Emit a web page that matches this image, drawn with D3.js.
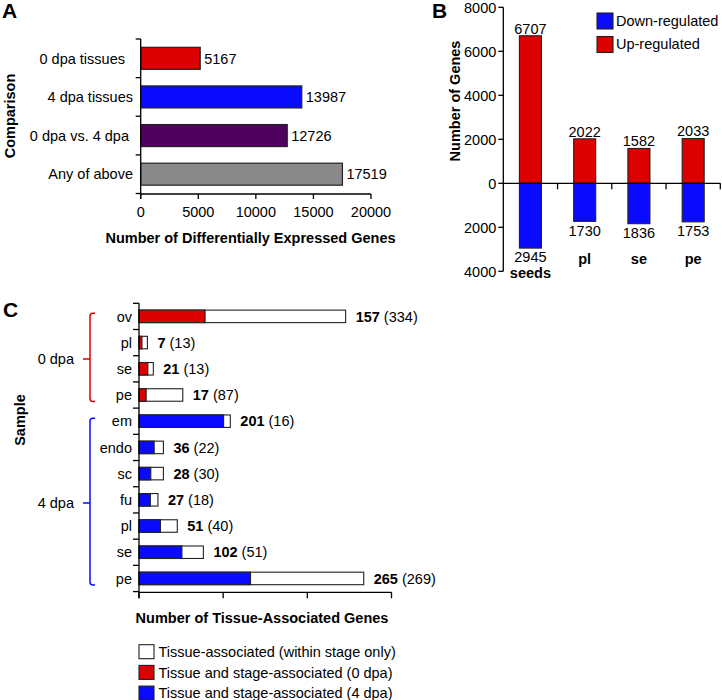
<!DOCTYPE html>
<html>
<head>
<meta charset="utf-8">
<script src="https://cdn.jsdelivr.net/npm/d3@7"></script>
<style>
  html, body { margin: 0; padding: 0; background: #fff; }
  svg { display: block; font-family: "Liberation Sans", Arial, sans-serif; }
</style>
</head>
<body>
<svg id="chart" width="722" height="700"></svg>
<script>
// ---------- Panel A data ----------
const compCategories = ["0 dpa tissues\u00a0\u00a0", "4 dpa tissues", "0 dpa vs. 4 dpa\u00a0", "Any of above"];
const compValues = [5167, 13987, 12726, 17519];
const compColors = ["#dc0000", "#0a0aff", "#50005f", "#8a8a8a"];
const compTicks = [0, 5000, 10000, 15000, 20000];

// ---------- Panel B data ----------
const regCategories = ["seeds", "pl", "se", "pe"];
const upRegulated = [6707, 2022, 1582, 2033];
const downRegulated = [2945, 1730, 1836, 1753];
const regTicks = [8000, 6000, 4000, 2000, 0, -2000, -4000];

// ---------- Panel C data ----------
const samples = ["ov", "pl", "se", "pe", "em", "endo", "sc", "fu", "pl", "se", "pe"];
const sampleStage = ["0 dpa", "0 dpa", "0 dpa", "0 dpa", "4 dpa", "4 dpa", "4 dpa", "4 dpa", "4 dpa", "4 dpa", "4 dpa"];
const stageAssociated = [157, 7, 21, 17, 201, 36, 28, 27, 51, 102, 265];
const withinStageOnly = [334, 13, 13, 87, 16, 22, 30, 18, 40, 51, 269];
const tissueTicks = [0, 200, 400, 600];
const stages = ["0 dpa", "4 dpa"];
const stageColors = {"0 dpa": "#dc0000", "4 dpa": "#0a0aff"};
const legendC = ["Tissue-associated (within stage only)", "Tissue and stage-associated (0 dpa)", "Tissue and stage-associated (4 dpa)"];
const legendCColors = ["#ffffff", "#dc0000", "#0a0aff"];

const svg = d3.select("#chart");
const FS = 14.5;

function panelLetter(t, x, y) {
  svg.append("text").attr("x", x).attr("y", y).attr("font-size", 21)
    .attr("font-weight", "bold").text(t);
}

// ================= Panel A =================
(function () {
  const x = d3.scaleLinear().domain([0, 20000]).range([140.7, 371]);
  const y = d3.scaleBand().domain(compCategories).range([39, 193.5])
    .paddingInner(0.43).paddingOuter(0.215);
  const g = svg.append("g");
  const axisY = 194;

  g.selectAll("rect.bar").data(compCategories).join("rect")
    .attr("x", x(0)).attr("y", d => y(d))
    .attr("width", (d, i) => x(compValues[i]) - x(0))
    .attr("height", y.bandwidth())
    .attr("fill", (d, i) => compColors[i])
    .attr("stroke", "#222").attr("stroke-width", 1.2);

  g.selectAll("text.val").data(compCategories).join("text")
    .attr("x", (d, i) => x(compValues[i]) + 4)
    .attr("y", d => y(d) + y.bandwidth() / 2)
    .attr("dy", "0.36em").attr("font-size", FS)
    .text((d, i) => compValues[i]);

  // axes
  g.append("line").attr("x1", x(0)).attr("x2", x(0)).attr("y1", 39).attr("y2", axisY + 5)
    .attr("stroke", "#000").attr("stroke-width", 1.3);
  g.append("line").attr("x1", x(0)).attr("x2", x(20000)).attr("y1", axisY).attr("y2", axisY)
    .attr("stroke", "#000").attr("stroke-width", 1.3);
  const step = y.step();
  const bounds = d3.range(compCategories.length + 1).map(i => 39 + i * step);
  g.selectAll("line.yt").data(bounds).join("line")
    .attr("x1", x(0) - 5).attr("x2", x(0)).attr("y1", d => d).attr("y2", d => d)
    .attr("stroke", "#000").attr("stroke-width", 1.3);
  g.selectAll("line.xt").data(compTicks).join("line")
    .attr("x1", d => x(d)).attr("x2", d => x(d)).attr("y1", axisY).attr("y2", axisY + 5)
    .attr("stroke", "#000").attr("stroke-width", 1.3);
  g.selectAll("text.xl").data(compTicks).join("text")
    .attr("x", d => x(d)).attr("y", 211.7).attr("dy", "0.36em")
    .attr("text-anchor", "middle").attr("font-size", FS).text(d => d);
  g.selectAll("text.yl").data(compCategories).join("text")
    .attr("x", 133).attr("y", d => y(d) + y.bandwidth() / 2).attr("dy", "0.36em")
    .attr("text-anchor", "end").attr("font-size", FS)
    .style("white-space", "pre").text(d => d);

  g.append("text").attr("x", 250.5).attr("y", 237.3).attr("dy", "0.36em")
    .attr("text-anchor", "middle").attr("font-size", FS).attr("font-weight", "bold")
    .text("Number of Differentially Expressed Genes");
  g.append("text").attr("transform", "translate(10,116) rotate(-90)")
    .attr("dy", "0.36em").attr("text-anchor", "middle").attr("font-size", FS)
    .attr("font-weight", "bold").text("Comparison");
  panelLetter("A", 2, 18);
})();

// ================= Panel B =================
(function () {
  const y = d3.scaleLinear().domain([-4000, 8000]).range([271.3, 7.3]);
  const x = d3.scaleBand().domain(regCategories).range([503.3, 720.3])
    .paddingInner(0.594).paddingOuter(0.297);
  const g = svg.append("g");
  const x0 = 503.3;

  g.selectAll("rect.up").data(regCategories).join("rect")
    .attr("x", d => x(d)).attr("y", (d, i) => y(upRegulated[i]))
    .attr("width", x.bandwidth()).attr("height", (d, i) => y(0) - y(upRegulated[i]))
    .attr("fill", "#dc0000").attr("stroke", "#222").attr("stroke-width", 1.1);
  g.selectAll("rect.down").data(regCategories).join("rect")
    .attr("x", d => x(d)).attr("y", y(0))
    .attr("width", x.bandwidth()).attr("height", (d, i) => y(-downRegulated[i]) - y(0))
    .attr("fill", "#0a0aff").attr("stroke", "#222").attr("stroke-width", 1.1);

  g.selectAll("text.upv").data(regCategories).join("text")
    .attr("x", d => x(d) + x.bandwidth() / 2).attr("y", (d, i) => y(upRegulated[i]) - 7.3)
    .attr("dy", "0.36em").attr("text-anchor", "middle").attr("font-size", FS)
    .text((d, i) => upRegulated[i]);
  g.selectAll("text.dnv").data(regCategories).join("text")
    .attr("x", d => x(d) + x.bandwidth() / 2).attr("y", (d, i) => y(-downRegulated[i]) + 9)
    .attr("dy", "0.36em").attr("text-anchor", "middle").attr("font-size", FS)
    .text((d, i) => downRegulated[i]);
  // category labels (pushed below value label if bar is long)
  g.selectAll("text.cat").data(regCategories).join("text")
    .attr("x", d => x(d) + x.bandwidth() / 2)
    .attr("y", (d, i) => Math.max(258.3, y(-downRegulated[i]) + 25))
    .attr("dy", "0.36em").attr("text-anchor", "middle").attr("font-size", FS)
    .attr("font-weight", "bold").text(d => d);

  // axes
  g.append("line").attr("x1", x0).attr("x2", x0).attr("y1", y(8000)).attr("y2", y(-4000))
    .attr("stroke", "#000").attr("stroke-width", 1.3);
  g.append("line").attr("x1", x0).attr("x2", 720.3).attr("y1", y(0)).attr("y2", y(0))
    .attr("stroke", "#000").attr("stroke-width", 1.3);
  g.selectAll("line.yt").data(regTicks).join("line")
    .attr("x1", x0 - 5).attr("x2", x0).attr("y1", d => y(d)).attr("y2", d => y(d))
    .attr("stroke", "#000").attr("stroke-width", 1.3);
  g.selectAll("text.yl").data(regTicks).join("text")
    .attr("x", x0 - 7).attr("y", d => y(d)).attr("dy", "0.36em")
    .attr("text-anchor", "end").attr("font-size", FS).text(d => Math.abs(d));
  const xb = regCategories.map(d => x(d) + x.bandwidth() / 2 + x.step() / 2);
  g.selectAll("line.xt").data(xb).join("line")
    .attr("x1", d => d).attr("x2", d => d).attr("y1", y(0)).attr("y2", y(0) + 6)
    .attr("stroke", "#000").attr("stroke-width", 1.3);

  g.append("text").attr("transform", "translate(455,101) rotate(-90)")
    .attr("dy", "0.36em").attr("text-anchor", "middle").attr("font-size", FS)
    .attr("font-weight", "bold").text("Number of Genes");

  // legend
  const leg = [["Down-regulated", "#0a0aff"], ["Up-regulated", "#dc0000"]];
  leg.forEach((l, i) => {
    g.append("rect").attr("x", 597).attr("y", 13 + i * 23.5).attr("width", 16).attr("height", 16)
      .attr("fill", l[1]).attr("stroke", "#222").attr("stroke-width", 1.1);
    g.append("text").attr("x", 616).attr("y", 21 + i * 23).attr("dy", "0.36em")
      .attr("font-size", FS).text(l[0]);
  });
  panelLetter("B", 432, 18);
})();

// ================= Panel C =================
(function () {
  const idx = d3.range(samples.length);
  const x = d3.scaleLinear().domain([0, 600]).range([139, 391.5]);
  const y = d3.scaleBand().domain(idx).range([303.3, 591.5]).paddingInner(0.523).paddingOuter(0.26);
  const g = svg.append("g");
  const axisY = 592.3;

  // white total bars
  g.selectAll("rect.tot").data(idx).join("rect")
    .attr("x", x(0)).attr("y", i => y(i))
    .attr("width", i => x(stageAssociated[i] + withinStageOnly[i]) - x(0))
    .attr("height", y.bandwidth()).attr("fill", "#fff")
    .attr("stroke", "#222").attr("stroke-width", 1.1);
  g.selectAll("rect.stg").data(idx).join("rect")
    .attr("x", x(0)).attr("y", i => y(i))
    .attr("width", i => x(stageAssociated[i]) - x(0))
    .attr("height", y.bandwidth()).attr("fill", i => stageColors[sampleStage[i]])
    .attr("stroke", "#222").attr("stroke-width", 1.1);

  const lab = g.selectAll("text.val").data(idx).join("text")
    .attr("x", i => x(stageAssociated[i] + withinStageOnly[i]) + 10)
    .attr("y", i => y(i) + y.bandwidth() / 2).attr("dy", "0.36em").attr("font-size", FS);
  lab.append("tspan").attr("font-weight", "bold").text(i => stageAssociated[i]);
  lab.append("tspan").text(i => " (" + withinStageOnly[i] + ")");

  g.selectAll("text.yl").data(idx).join("text")
    .attr("x", 132).attr("y", i => y(i) + y.bandwidth() / 2).attr("dy", "0.36em")
    .attr("text-anchor", "end").attr("font-size", FS).text(i => samples[i]);

  // axes
  g.append("line").attr("x1", x(0)).attr("x2", x(0)).attr("y1", 303.3).attr("y2", axisY + 6)
    .attr("stroke", "#000").attr("stroke-width", 1.3);
  g.append("line").attr("x1", x(0)).attr("x2", x(600)).attr("y1", axisY).attr("y2", axisY)
    .attr("stroke", "#000").attr("stroke-width", 1.3);
  const bounds = d3.range(samples.length + 1).map(i => 303.3 + i * y.step());
  g.selectAll("line.yt").data(bounds).join("line")
    .attr("x1", x(0) - 6).attr("x2", x(0)).attr("y1", d => d).attr("y2", d => d)
    .attr("stroke", "#000").attr("stroke-width", 1.3);
  g.selectAll("line.xt").data(tissueTicks).join("line")
    .attr("x1", d => x(d)).attr("x2", d => x(d)).attr("y1", axisY).attr("y2", axisY + 6)
    .attr("stroke", "#000").attr("stroke-width", 1.3);

  // brackets
  stages.forEach(s => {
    const rows = idx.filter(i => sampleStage[i] === s);
    const top = y(rows[0]) + y.bandwidth() / 2 - 3;
    const bot = y(rows[rows.length - 1]) + y.bandwidth() / 2 + 6.5;
    const mid = (top + bot) / 2 + 1.5;
    const bx = 90, r = 3;
    g.append("path")
      .attr("d", `M${bx + 5},${top} L${bx + r},${top} Q${bx},${top} ${bx},${top + r} L${bx},${bot - r} Q${bx},${bot} ${bx + r},${bot} L${bx + 5},${bot} M${bx},${mid} L${bx - 7},${mid}`)
      .attr("fill", "none").attr("stroke", stageColors[s]).attr("stroke-width", 1.5);
    g.append("text").attr("x", 74).attr("y", mid).attr("dy", "0.36em")
      .attr("text-anchor", "end").attr("font-size", FS).text(s);
  });

  g.append("text").attr("x", 262).attr("y", 617.7).attr("dy", "0.36em")
    .attr("text-anchor", "middle").attr("font-size", FS).attr("font-weight", "bold")
    .text("Number of Tissue-Associated Genes");
  g.append("text").attr("transform", "translate(20,420) rotate(-90)")
    .attr("dy", "0.36em").attr("text-anchor", "middle").attr("font-size", FS)
    .attr("font-weight", "bold").text("Sample");

  legendC.forEach((t, i) => {
    const cy = 651.7 + i * 20.7;
    g.append("rect").attr("x", 139).attr("y", cy - 7).attr("width", 15).attr("height", 14)
      .attr("fill", legendCColors[i]).attr("stroke", "#222").attr("stroke-width", 1.1);
    g.append("text").attr("x", 158.5).attr("y", cy).attr("dy", "0.36em")
      .attr("font-size", FS).text(t);
  });
  panelLetter("C", 3, 317);
})();
</script>
</body>
</html>
